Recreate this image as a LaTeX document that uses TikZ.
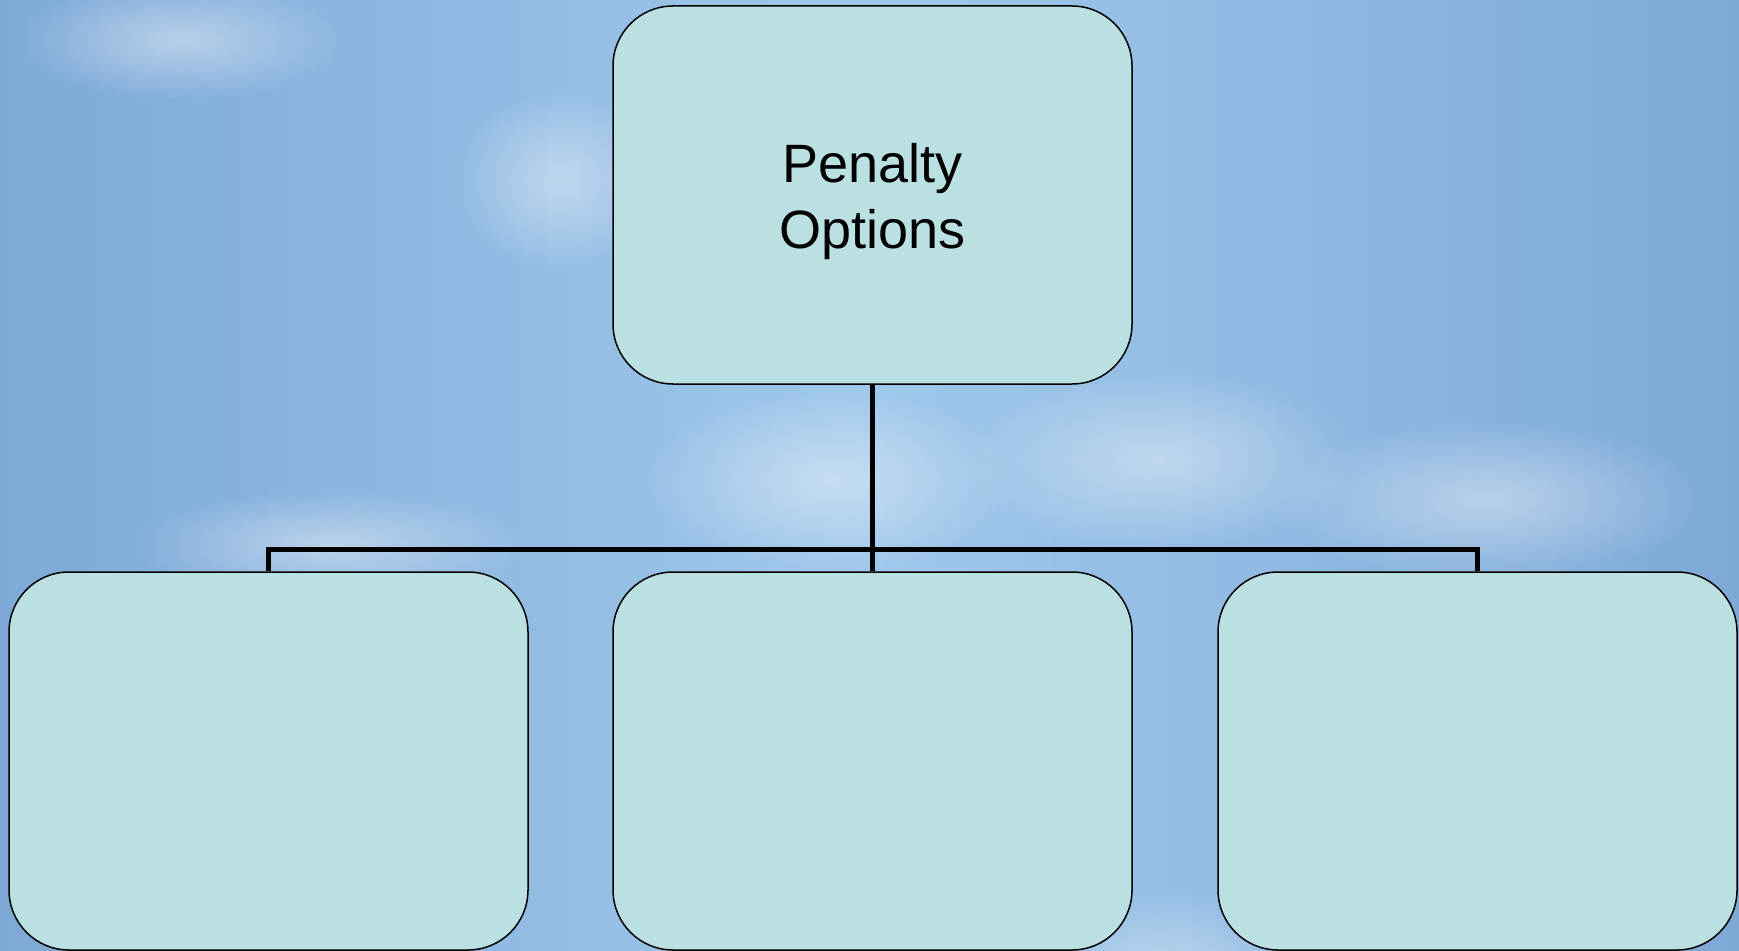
\documentclass[tikz,border=0pt]{standalone}
\usepackage{fontspec}
\setmainfont{Liberation Sans}
\usetikzlibrary{fadings}
\definecolor{boxfill}{HTML}{BAE0E2}
\definecolor{skyedge}{HTML}{7EA9D7}
\definecolor{skymid}{HTML}{A0C8EB}
\tikzfading[name=softcloud, inner color=transparent!10, outer color=transparent!100]
\tikzset{
  orgbox/.style={draw=black, line width=1.5pt, fill=boxfill, rounded corners=60pt,
    minimum width=519pt, minimum height=378pt, inner sep=0pt},
  boxtext/.style={align=center, inner sep=0pt, font=\fontsize{54pt}{66pt}\selectfont},
  link/.style={draw=black, line width=5pt, line join=miter},
  cloud/.style={fill=white, opacity=0.45, path fading=softcloud}
}
\begin{document}
\begin{tikzpicture}[x=1pt,y=-1pt]
\useasboundingbox (0,0) rectangle (1739,950);
\shade[left color=skyedge, right color=skyedge, middle color=skymid] (0,0) rectangle (1739,950);
% faint clouds
\fill[cloud] (560,180) ellipse [x radius=110, y radius=90];
\fill[cloud] (180,40) ellipse [x radius=170, y radius=60];
\fill[cloud] (330,545) ellipse [x radius=200, y radius=55];
\fill[cloud] (830,480) ellipse [x radius=190, y radius=90];
\fill[cloud] (1160,460) ellipse [x radius=200, y radius=90];
\fill[cloud] (1490,500) ellipse [x radius=220, y radius=80];
\fill[cloud] (1170,980) ellipse [x radius=140, y radius=90];
\node[orgbox] (top) at (872.5,195) {};
\node[boxtext] (toptext) at ([yshift=-7pt]top.center) {Penalty\\Options};
\node[orgbox] (left) at (268.5,761) {};
\node[orgbox] (mid) at (872.5,761) {};
\node[orgbox] (right) at (1477.5,761) {};
\coordinate (bus) at (0,549);
\draw[link] (top.south) -- (mid.north);
\draw[link] (left.north) -- (left.north |- bus) -- (right.north |- bus) -- (right.north);
\end{tikzpicture}
\end{document}
